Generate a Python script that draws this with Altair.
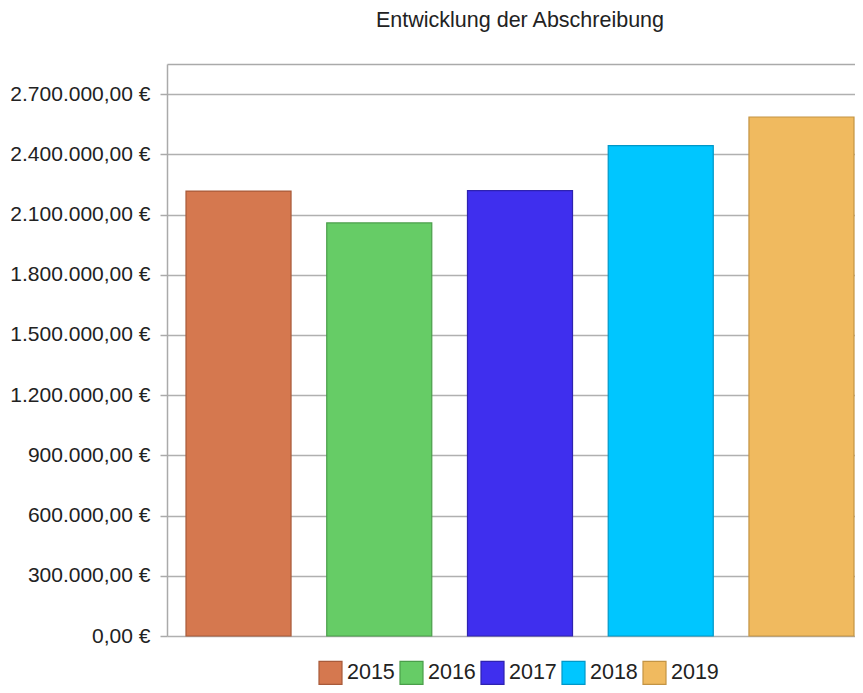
import altair as alt
import pandas as pd

years = ["2015", "2016", "2017", "2018", "2019"]
values = [2217000, 2058000, 2219000, 2443000, 2586000]
fill_colors = ["#D5784F", "#66CC66", "#3F2FEE", "#00C6FF", "#F0BA5F"]
stroke_colors = ["#A85A3A", "#4A9E4A", "#2E22B0", "#0098C8", "#C39444"]
y_ticks = [0, 300000, 600000, 900000, 1200000, 1500000, 1800000, 2100000, 2400000, 2700000]
title_text = "Entwicklung der Abschreibung"

df = pd.DataFrame({"Jahr": years, "Wert": values})

FONT = "Liberation Sans"

legend_kw = dict(
    title=None,
    orient="none",
    legendX=151,
    legendY=596,
    direction="horizontal",
    symbolType="square",
    symbolSize=529,
    symbolStrokeWidth=1.2,
    labelFontSize=21.5,
    labelFont=FONT,
    labelColor="#222222",
    labelOffset=4,
    columnPadding=2,
    padding=0,
)

chart = (
    alt.Chart(df)
    .mark_bar(strokeWidth=1.2)
    .encode(
        x=alt.X(
            "Jahr:N",
            scale=alt.Scale(range=[0, 706], paddingInner=0.2537, paddingOuter=0.135),
            axis=alt.Axis(
                orient="top",
                labels=False,
                ticks=False,
                title=None,
                domain=True,
                domainColor="#aaaaaa",
                domainWidth=1.5,
                grid=False,
            ),
        ),
        y=alt.Y(
            "Wert:Q",
            scale=alt.Scale(domain=[0, 2850000], nice=False),
            axis=alt.Axis(
                values=y_ticks,
                format=",.2f",
                labelExpr="datum.label + ' €'",
                title=None,
                labelFontSize=21,
                labelFont=FONT,
                labelColor="#222222",
                labelPadding=10,
                tickSize=7,
                tickColor="#aaaaaa",
                tickWidth=1.5,
                domainColor="#aaaaaa",
                domainWidth=1.5,
                grid=True,
                gridColor="#b0b0b0",
                gridWidth=1.5,
            ),
        ),
        color=alt.Color(
            "Jahr:N",
            scale=alt.Scale(domain=years, range=fill_colors),
            legend=alt.Legend(**legend_kw),
        ),
        stroke=alt.Stroke(
            "Jahr:N",
            scale=alt.Scale(domain=years, range=stroke_colors),
            legend=alt.Legend(**legend_kw),
        ),
    )
    .properties(
        width=688,
        height=572,
        title=alt.TitleParams(
            title_text,
            fontSize=21.5,
            font=FONT,
            fontWeight="normal",
            color="#222222",
            anchor="middle",
            offset=33,
            dx=9,
        ),
        autosize=alt.AutoSizeParams(type="none"),
        padding={"left": 159, "top": 56, "right": 0, "bottom": 49},
    )
    .configure(
        locale={"number": {"decimal": ",", "thousands": ".", "grouping": [3], "currency": ["", " €"]}}
    )
    .configure_view(stroke=None)
)

chart.save("out.html", embed_options={"renderer": "svg", "actions": False})
